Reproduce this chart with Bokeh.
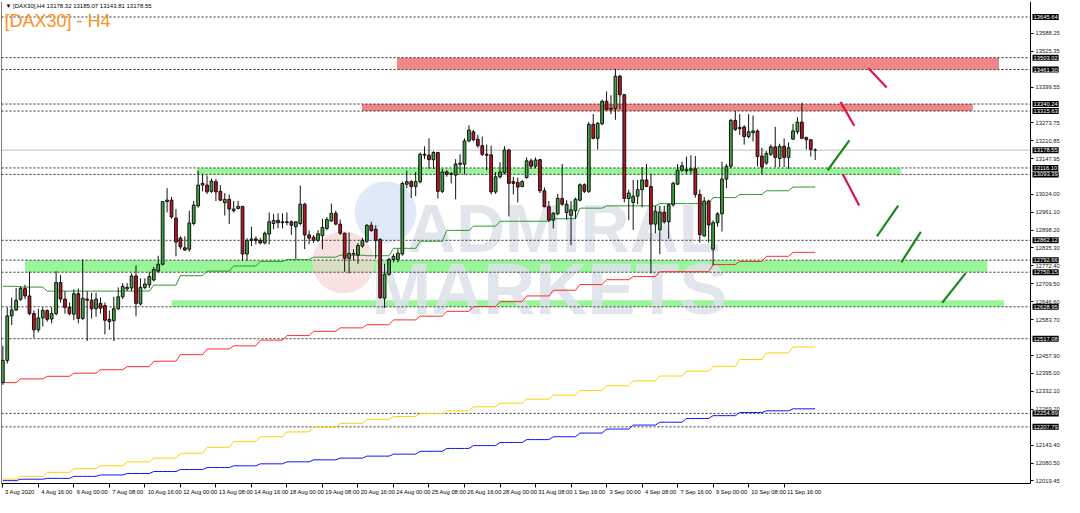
from bokeh.plotting import figure
from bokeh.models import (ColumnDataSource, FixedTicker, LinearAxis, Range1d, Label,
                          PrintfTickFormatter, CustomJSTickFormatter)
from bokeh.embed import file_html
from bokeh.resources import INLINE
from bokeh.core.properties import value

# ---------------- data (DAX30, H4) ----------------
opens = [12363, 12441, 12597, 12618, 12655, 12693, 12667, 12605, 12548, 12590,
         12616, 12586, 12605, 12714, 12656, 12627, 12603, 12675, 12588, 12656,
         12652, 12622, 12641, 12633, 12585, 12580, 12622, 12664, 12692, 12695,
         12737, 12639, 12697, 12706, 12723, 12754, 12778, 12998, 13003, 12940,
         12870, 12836, 12831, 12921, 12983, 13056, 13056, 13034, 13068, 13034,
         12994, 13006, 12966, 12974, 12981, 12814, 12862, 12867, 12862, 12853,
         12884, 12921, 12932, 12924, 12927, 12927, 12910, 12921, 12989, 12881,
         12873, 12862, 12879, 12904, 12930, 12957, 12919, 12887, 12799, 12814,
         12810, 12842, 12859, 12915, 12901, 12865, 12659, 12743, 12795, 12795,
         12814, 13059, 13068, 13051, 13068, 13164, 13161, 13145, 13170, 13034,
         13102, 13093, 13091, 13129, 13129, 13211, 13243, 13217, 13194, 13164,
         13162, 13032, 13085, 13100, 13179, 13068, 13065, 13051, 13082, 13141,
         13122, 13145, 13036, 12980, 12933, 12955, 13009, 12960, 12950, 12966,
         13003, 13057, 13034, 13269, 13220, 13271, 13350, 13322, 13325, 13438,
         13373, 13009, 12995, 13017, 13040, 13074, 13051, 12919, 12899, 12961,
         12927, 12987, 13059, 13108, 13106, 13108, 13113, 13023, 12878, 13000,
         12831, 12924, 12955, 13077, 13122, 13283, 13254, 13260, 13226, 13240,
         13246, 13158, 13133, 13164, 13190, 13149, 13192, 13153, 13217, 13243,
         13277, 13223, 13215, 13178.32]
highs = [12492, 12627, 12661, 12695, 12701, 12706, 12752, 12616, 12622, 12627,
         12620, 12627, 12754, 12740, 12684, 12644, 12690, 12693, 12795, 12684,
         12678, 12678, 12661, 12644, 12616, 12664, 12697, 12712, 12712, 12746,
         12774, 12729, 12729, 12752, 12769, 12808, 13000, 13045, 13014, 12972,
         12876, 12876, 12966, 13000, 13107, 13096, 13090, 13079, 13077, 13056,
         13028, 13023, 13000, 13000, 12983, 12870, 12910, 12876, 12870, 12893,
         12960, 12955, 12957, 12957, 12960, 12932, 12930, 13054, 12994, 12896,
         12881, 12898, 12938, 12944, 12991, 12966, 12935, 12889, 12889, 12831,
         12853, 12870, 12919, 12927, 12915, 12870, 12780, 12802, 12814, 12831,
         13068, 13107, 13073, 13102, 13170, 13192, 13220, 13175, 13172, 13113,
         13108, 13102, 13147, 13164, 13220, 13266, 13249, 13232, 13226, 13198,
         13194, 13102, 13136, 13192, 13183, 13085, 13082, 13074, 13153, 13149,
         13153, 13147, 13048, 13000, 12961, 13025, 13130, 13003, 13000, 13012,
         13062, 13062, 13277, 13305, 13277, 13356, 13384, 13371, 13463, 13443,
         13375, 13040, 13074, 13074, 13119, 13130, 13096, 12983, 12983, 12983,
         12991, 13068, 13130, 13138, 13156, 13161, 13158, 13040, 13014, 13005,
         12933, 12961, 13138, 13130, 13288, 13316, 13305, 13266, 13305, 13300,
         13251, 13187, 13175, 13198, 13260, 13201, 13220, 13206, 13271, 13294,
         13345, 13226, 13217, 13185.07]
lows = [12355, 12430, 12565, 12614, 12650, 12656, 12599, 12520, 12539, 12560,
        12577, 12571, 12599, 12644, 12605, 12599, 12582, 12571, 12582, 12509,
        12588, 12594, 12605, 12532, 12548, 12509, 12618, 12656, 12684, 12684,
        12596, 12633, 12690, 12695, 12718, 12749, 12774, 12960, 12938, 12806,
        12831, 12825, 12822, 12915, 12977, 13034, 13025, 13028, 13000, 13000,
        12949, 12919, 12960, 12970, 12791, 12791, 12842, 12848, 12848, 12848,
        12848, 12901, 12904, 12904, 12915, 12881, 12797, 12915, 12831, 12848,
        12853, 12856, 12831, 12898, 12927, 12915, 12881, 12752, 12746, 12791,
        12780, 12836, 12853, 12893, 12797, 12656, 12625, 12738, 12785, 12785,
        12808, 13045, 13011, 13017, 13062, 13147, 13113, 13113, 13009, 13028,
        13085, 13062, 13006, 13096, 13093, 13206, 13209, 13187, 13158, 13108,
        13023, 13025, 13079, 13093, 12946, 13023, 12995, 13048, 13079, 13113,
        13115, 13028, 12978, 12927, 12904, 12950, 12983, 12935, 12845, 12938,
        12998, 13028, 13028, 13217, 13181, 13266, 13319, 13305, 13285, 13322,
        12995, 12933, 12899, 12989, 12978, 13048, 12746, 12887, 12814, 12921,
        12867, 12980, 13057, 13102, 13096, 13096, 13012, 12854, 12874, 12854,
        12774, 12910, 12893, 13045, 13115, 13246, 13232, 13198, 13220, 13209,
        13122, 13093, 13127, 13158, 13119, 13119, 13119, 13113, 13215, 13235,
        13217, 13181, 13156, 13143.81]
closes = [12441, 12597, 12618, 12652, 12693, 12667, 12605, 12548, 12590, 12616,
          12585, 12605, 12714, 12656, 12627, 12605, 12675, 12588, 12659, 12652,
          12622, 12656, 12624, 12582, 12577, 12622, 12664, 12701, 12697, 12737,
          12641, 12697, 12709, 12735, 12760, 12778, 12998, 13003, 12944, 12856,
          12839, 12828, 12923, 12986, 13056, 13062, 13032, 13070, 13032, 13003,
          13006, 12972, 12972, 12981, 12814, 12862, 12867, 12862, 12853, 12887,
          12927, 12932, 12924, 12927, 12925, 12915, 12927, 12989, 12881, 12870,
          12862, 12885, 12907, 12935, 12957, 12919, 12887, 12799, 12816, 12816,
          12844, 12862, 12915, 12896, 12862, 12661, 12743, 12795, 12806, 12817,
          13062, 13068, 13051, 13068, 13164, 13161, 13145, 13170, 13034, 13102,
          13093, 13096, 13130, 13133, 13211, 13249, 13215, 13194, 13164, 13161,
          13032, 13085, 13102, 13179, 13062, 13062, 13049, 13068, 13141, 13122,
          13144, 13036, 12980, 12933, 12957, 13009, 12989, 12989, 12969, 13006,
          13057, 13034, 13269, 13220, 13273, 13350, 13322, 13325, 13438, 13373,
          13009, 13028, 13017, 13040, 13074, 13051, 12919, 12964, 12961, 12927,
          12987, 13062, 13108, 13124, 13110, 13113, 13023, 12882, 13000, 12916,
          12924, 12955, 13077, 13122, 13283, 13251, 13258, 13226, 13243, 13246,
          13156, 13119, 13167, 13190, 13153, 13192, 13153, 13187, 13246, 13277,
          13220, 13215, 13181, 13178.55]

# daily step averages (one value per trading day; first bar of each day below)
day_first_bar = [0, 4, 10, 16, 22, 28, 34, 40, 46, 52, 58, 64, 70, 76, 82, 88,
                 94, 100, 106, 112, 118, 124, 130, 136, 142, 148, 154, 160, 166, 172, 178]
ma_green = [12701, 12698, 12684, 12684, 12684, 12684, 12705, 12738, 12754, 12772,
            12788, 12795, 12803, 12810, 12808, 12834, 12859, 12897, 12912, 12929,
            12929, 12938, 12975, 12983, 12983, 12991, 12991, 13012, 13023, 13036, 13049]
ma_red = [12363, 12376, 12385, 12396, 12408, 12419, 12438, 12461, 12481, 12492,
          12512, 12528, 12543, 12555, 12566, 12583, 12596, 12613, 12630, 12647,
          12667, 12687, 12707, 12724, 12735, 12752, 12752, 12777, 12788, 12806, 12820]
ma_yellow = [12024, 12034, 12048, 12061, 12071, 12085, 12098, 12115, 12136, 12156,
             12173, 12190, 12207, 12220, 12234, 12244, 12254, 12264, 12278, 12291,
             12305, 12319, 12335, 12352, 12369, 12386, 12403, 12420, 12444, 12467, 12488]
ma_blue = [12019, 12024, 12027, 12034, 12039, 12044, 12051, 12058, 12065, 12071,
           12078, 12085, 12092, 12098, 12105, 12112, 12122, 12132, 12142, 12153,
           12163, 12173, 12186, 12200, 12214, 12224, 12237, 12247, 12258, 12264, 12271]

x_tick_bars = [0, 8, 16, 24, 32, 40, 48, 56, 64, 72, 80, 88, 96, 104, 112, 120,
               128, 136, 144, 152, 160, 168, 176]
x_tick_labels = ["3 Aug 2020", "4 Aug 16:00", "6 Aug 00:00", "7 Aug 08:00",
                 "10 Aug 16:00", "12 Aug 00:00", "13 Aug 08:00", "14 Aug 16:00",
                 "18 Aug 00:00", "19 Aug 08:00", "20 Aug 16:00", "24 Aug 00:00",
                 "25 Aug 08:00", "26 Aug 16:00", "28 Aug 00:00", "31 Aug 08:00",
                 "1 Sep 16:00", "3 Sep 00:00", "4 Sep 08:00", "7 Sep 16:00",
                 "9 Sep 00:00", "10 Sep 08:00", "11 Sep 16:00"]

y_tick_values = [13588.25, 13525.35, 13399.55, 13273.75, 13210.85, 13147.95,
                 13024.00, 12961.10, 12898.20, 12835.30, 12772.40, 12709.50,
                 12646.60, 12583.70, 12457.90, 12395.00, 12332.10, 12269.20,
                 12143.40, 12080.50, 12019.45]

level_prices = [13645.64, 13503.02, 13461.30, 13340.24, 13315.63, 13116.10,
                13093.39, 12862.12, 12792.66, 12750.15, 12628.95, 12517.08,
                12254.89, 12207.79]
last_price = 13178.55

zone_left = [88.8, 80.9, 43.7, 5.0, 38.0]
zone_right = [224.4, 218.5, 202.4, 221.8, 225.5]
zone_bottom = [13461.30, 13315.63, 13093.39, 12750.15, 12628.95]
zone_top = [13503.02, 13340.24, 13116.10, 12792.66, 12652.00]
zone_kind = ["res", "res", "sup", "sup", "sup"]

scen_x0 = [195.0, 188.7, 189.2, 185.8, 196.9, 202.4, 211.6]
scen_y0 = [13466, 13348, 13095, 13108, 12876, 12785, 12643]
scen_x1 = [199.1, 191.8, 192.9, 190.7, 201.7, 206.8, 216.9]
scen_y1 = [13398, 13264, 12984, 13213, 12984, 12892, 12747]
scen_kind = ["down", "down", "down", "up", "up", "up", "up"]

# ---------------- figure ----------------
W, H = 1064, 497
X0, X1 = -0.3, 231.5           # price-chart part of the frame
AXIS_PX = 34                   # width of the price scale strip (inside the frame)
FRAME_W = W - 1
px_per_bar = (FRAME_W - AXIS_PX) / (X1 - X0)
X2 = X1 + AXIS_PX / px_per_bar
Y0, Y1 = 12009, 13700
FONT = "Liberation Sans"

p = figure(width=W, height=H, x_range=Range1d(X0, X2), y_range=Range1d(Y0, Y1),
           output_backend="svg", toolbar_location=None,
           x_axis_type=None, y_axis_type=None,
           min_border_left=1, min_border_top=1, min_border_right=0, min_border_bottom=0,
           background_fill_color="white", border_fill_color="white")
p.outline_line_color = None

# zones
zone_color = ["#f28585" if k == "res" else "#98f598" for k in zone_kind]
p.quad(left=zone_left, right=zone_right, bottom=zone_bottom, top=zone_top,
       fill_color=zone_color, line_color=None)

# watermark
p.scatter(x=[86.2], y=[12960], size=62, marker="circle", fill_color="#d6e2f6",
          line_color=None, fill_alpha=0.75)
p.scatter(x=[76.7], y=[12785], size=62, marker="circle", fill_color="#f4d4d4",
          line_color=None, fill_alpha=0.7)
p.text(x=[91], y=[12905], text=["ADMIRAL"], text_font=value(FONT), text_font_style="bold",
       text_font_size="68px", text_color="#dce0e9", text_alpha=0.85, text_baseline="alphabetic")
p.text(x=[83], y=[12690], text=["MARKETS"], text_font=value(FONT), text_font_style="bold",
       text_font_size="72px", text_color="#dce0e9", text_alpha=0.85, text_baseline="alphabetic")

# level lines (end at the price scale)
nlev = len(level_prices)
p.segment(x0=[X0] * nlev, x1=[X1] * nlev, y0=level_prices, y1=level_prices,
          line_color="#303030", line_width=1, line_dash="2 2")
p.segment(x0=[X0], x1=[X1], y0=[last_price], y1=[last_price], line_color="#c0c0c0", line_width=1)

# daily step averages drawn bar by bar
n = len(closes)
bars = list(range(n))
day_of_bar = []
d = 0
for i in bars:
    while d + 1 < len(day_first_bar) and day_first_bar[d + 1] <= i:
        d += 1
    day_of_bar.append(d)
for vals, col in ((ma_blue, "#1010ff"), (ma_yellow, "#ffd000"),
                  (ma_red, "#ff2a2a"), (ma_green, "#2a9a2a")):
    p.line(x=bars, y=[vals[k] for k in day_of_bar], line_color=col, line_width=1)

# candles
src = ColumnDataSource(dict(
    x=bars, o=opens, h=highs, l=lows, c=closes,
    top=[max(a, b) for a, b in zip(opens, closes)],
    bot=[min(a, b) for a, b in zip(opens, closes)],
    col=["#3fa63f" if c >= o else "#c1121f" for o, c in zip(opens, closes)],
))
p.segment(x0="x", y0="h", x1="x", y1="l", source=src, line_color="#111111", line_width=1)
p.vbar(x="x", width=0.62, top="top", bottom="bot", source=src,
       fill_color="col", line_color="#111111", line_width=1)

# scenario strokes
scen_col = ["#d8174a" if k == "down" else "#1b8a1b" for k in scen_kind]
p.segment(x0=scen_x0, y0=scen_y0, x1=scen_x1, y1=scen_y1, line_color=scen_col,
          line_width=2.2)

# ---------------- axes ----------------
x_centers = [b + (2 + 1.5 * len(t)) / px_per_bar for b, t in zip(x_tick_bars, x_tick_labels)]
xfmt = CustomJSTickFormatter(args=dict(keys=x_centers, labs=x_tick_labels), code="""
    let best = -1, bd = 1e9;
    for (let i = 0; i < keys.length; i++) { const dd = Math.abs(keys[i] - tick); if (dd < bd) { bd = dd; best = i; } }
    return bd < 0.01 ? labs[best] : '';
""")
xaxis = LinearAxis(ticker=FixedTicker(ticks=x_centers, minor_ticks=x_tick_bars), formatter=xfmt,
                   bounds=(X0, X1),
                   major_tick_in=0, major_tick_out=0, minor_tick_in=0, minor_tick_out=4,
                   minor_tick_line_color="black", axis_line_color="black",
                   major_label_standoff=1, major_label_text_font_size="5.8px",
                   major_label_text_font=FONT, major_label_text_color="black")
p.add_layout(xaxis, "below")

# left border of the chart window
p.add_layout(LinearAxis(ticker=FixedTicker(ticks=[]), fixed_location=X0, axis_line_color="black",
                        major_tick_out=0, minor_tick_out=0, major_label_text_font_size="0px"), "left")

# price scale, drawn at the right edge of the price chart
yaxis = LinearAxis(ticker=FixedTicker(ticks=y_tick_values), formatter=PrintfTickFormatter(format="%.2f"),
                   fixed_location=X1,
                   major_tick_in=0, major_tick_out=3, minor_tick_in=0, minor_tick_out=0,
                   axis_line_color="black", major_tick_line_color="black",
                   major_label_standoff=2, major_label_text_font_size="5.8px",
                   major_label_text_font=FONT, major_label_text_color="#202020")
p.add_layout(yaxis, "right")

# black price tags on the right scale
for lvl in level_prices + [last_price]:
    p.add_layout(Label(x=X1, y=lvl, x_offset=2, text=f"{lvl:.2f}", text_baseline="middle",
                       text_align="left", text_font_size="5.8px", text_font=FONT,
                       text_color="white", background_fill_color="black", padding=1))

# header texts
p.add_layout(Label(x=X0, y=Y1, x_offset=4, y_offset=-1, text_baseline="top",
                   text="\u25BC [DAX30],H4  13178.32 13185.07 13143.81 13178.55",
                   text_font_size="6px", text_font=FONT, text_color="black"))
p.add_layout(Label(x=X0, y=Y1, x_offset=3, y_offset=-9, text_baseline="top",
                   text="[DAX30] - H4", text_font_size="18px", text_font=FONT,
                   text_color="#f7931e"))

open("out.html", "w").write(file_html(p, INLINE))
